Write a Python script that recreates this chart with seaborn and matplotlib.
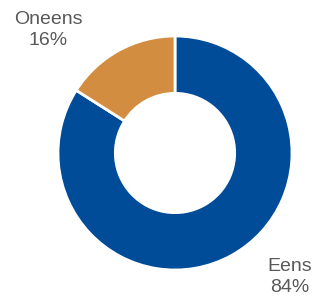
import matplotlib
matplotlib.use('Agg')
import matplotlib.pyplot as plt
import seaborn as sns

categories = ['Eens', 'Oneens']
shares = [84, 16]
colors = ['#004C99', '#D38D40']

sns.set_theme(style='white')
plt.rcParams['font.family'] = ['Liberation Sans', 'DejaVu Sans']

fig = plt.figure(figsize=(3.15, 3.03), dpi=100)
ax = fig.add_axes([0, 0, 1, 1])

r_px = 117.0
cx, cy = 175.0, 153.0
ax.pie(shares, colors=colors, startangle=90, counterclock=False,
       radius=1.0, wedgeprops=dict(width=0.49, edgecolor='white', linewidth=2))
ax.set_xlim(-cx / r_px, (315 - cx) / r_px)
ax.set_ylim(-(303 - cy) / r_px, cy / r_px)
ax.set_aspect('auto')
ax.axis('off')

label_pos = {'Oneens': (48, 30), 'Eens': (290, 277)}
for name, val in zip(categories, shares):
    px, py = label_pos[name]
    ax.text((px - cx) / r_px, (cy - py) / r_px, f'{name}\n{val}%',
            ha='center', va='center', fontsize=14, color='#595959',
            linespacing=1.35)

fig.savefig('out.png', dpi=100)
